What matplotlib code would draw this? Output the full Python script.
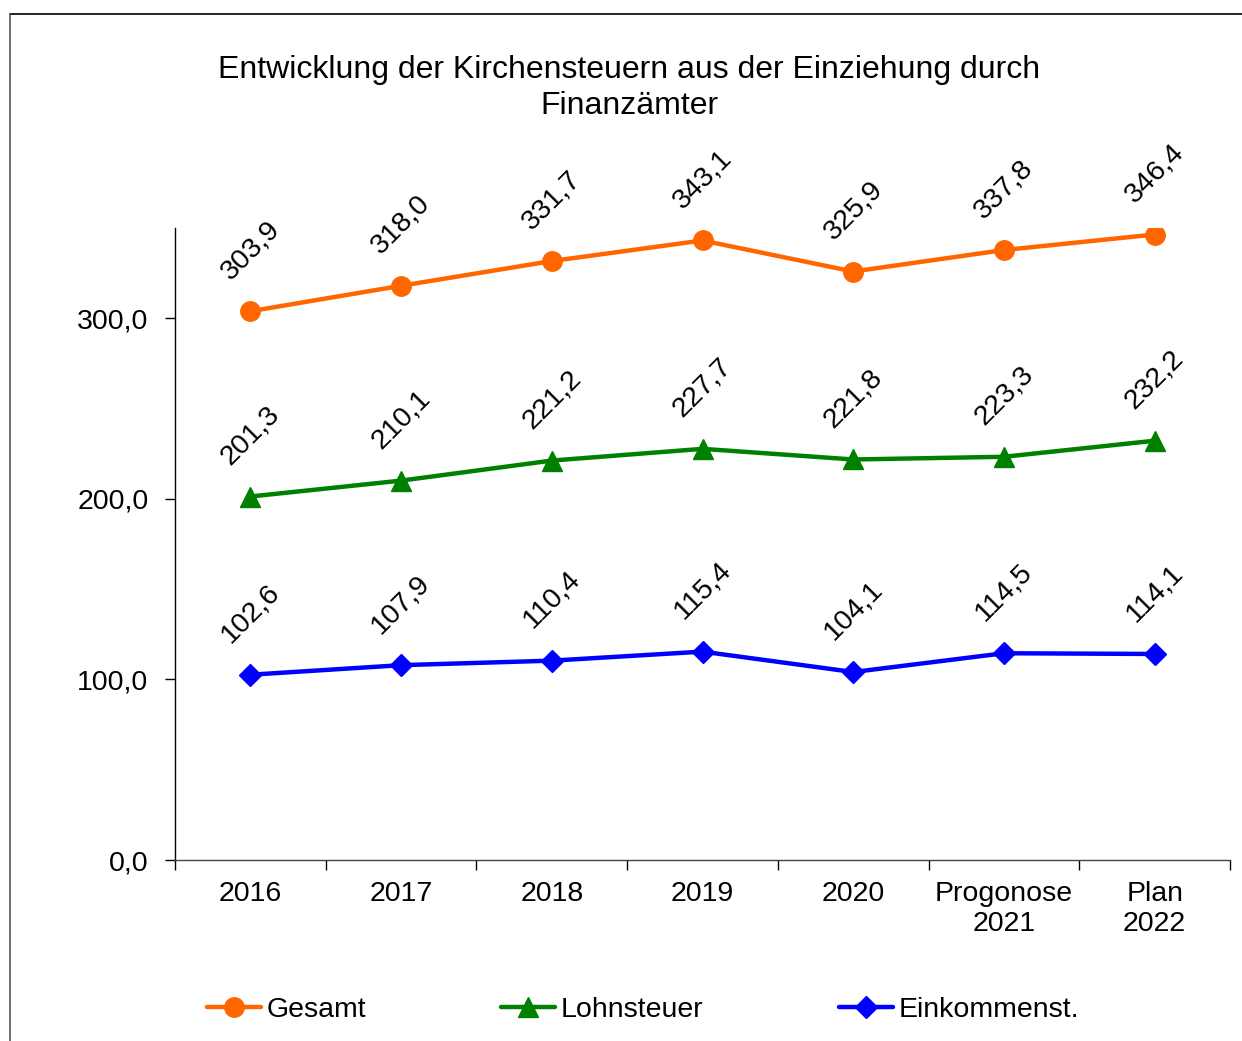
import numpy as np
import matplotlib
matplotlib.use("Agg")
import matplotlib.pyplot as plt
from matplotlib.lines import Line2D

plt.rcParams['font.family'] = ['Liberation Sans', 'DejaVu Sans']

# data
categories = ['2016', '2017', '2018', '2019', '2020', 'Progonose\n2021', 'Plan\n2022']
gesamt = [303.9, 318.0, 331.7, 343.1, 325.9, 337.8, 346.4]
lohnsteuer = [201.3, 210.1, 221.2, 227.7, 221.8, 223.3, 232.2]
einkommenst = [102.6, 107.9, 110.4, 115.4, 104.1, 114.5, 114.1]
y_ticks = [0, 100, 200, 300]

c_orange = "#FF6600"
c_green = "#008000"
c_blue = "#0000FF"
fs = 20.5

fig = plt.figure(figsize=(12.42, 10.41), dpi=100)
ax = fig.add_axes([175/1242, 1-860/1041, (1230-175)/1242, (860-228)/1041])

x = np.arange(len(categories))
series = [
    (gesamt, c_orange, 'o', 14, 'Gesamt'),
    (lohnsteuer, c_green, '^', 14, 'Lohnsteuer'),
    (einkommenst, c_blue, 'D', 11, 'Einkommenst.'),
]
for vals, col, mk, ms, name in series:
    ax.plot(x, vals, color=col, lw=3.2, marker=mk, markersize=ms,
            markeredgecolor=col, label=name, solid_capstyle='round')
    for xi, v in zip(x, vals):
        ax.annotate(f"{v:.1f}".replace('.', ','), (xi, v), xytext=(0, 44),
                    textcoords='offset points', rotation=45,
                    ha='center', va='center', fontsize=fs)

ax.set_xlim(-0.5, len(categories) - 0.5)
ax.set_ylim(0, 350)

# y axis
ax.set_yticks(y_ticks)
ax.set_yticklabels([f"{t:.1f}".replace('.', ',') for t in y_ticks])
ax.tick_params(axis='y', direction='out', length=7, width=1, pad=12, labelsize=fs)

# x axis: ticks at the boundaries, labels at the centres
ax.set_xticks(np.arange(len(categories) + 1) - 0.5)
ax.set_xticklabels([])
ax.set_xticks(x, minor=True)
ax.set_xticklabels(categories, minor=True)
ax.tick_params(axis='x', which='major', direction='out', length=7, width=1)
ax.tick_params(axis='x', which='minor', length=0, pad=15, labelsize=fs)

for s in ['top', 'right']:
    ax.spines[s].set_visible(False)
ax.spines['left'].set_linewidth(1)
ax.spines['bottom'].set_linewidth(1)
ax.spines['bottom'].set_color('#444444')

fig.text(629/1242, 1-88/1041,
         "Entwicklung der Kirchensteuern aus der Einziehung durch\nFinanzämter",
         ha='center', va='center', fontsize=23, linespacing=1.3)

fig.legend(loc='center', bbox_to_anchor=(643/1242, 1-1010/1041), ncol=3,
           frameon=False, fontsize=fs, handlelength=1.9, handletextpad=0.2,
           columnspacing=4.75)

# outer frame (top and left edges visible)
fig.add_artist(Line2D([10/1242, 1], [1-14/1041, 1-14/1041], color='black', lw=1.2,
                      transform=fig.transFigure))
fig.add_artist(Line2D([10/1242, 10/1242], [0, 1-14/1041], color='#555555', lw=1.2,
                      transform=fig.transFigure))

fig.savefig('out.png', dpi=100)
